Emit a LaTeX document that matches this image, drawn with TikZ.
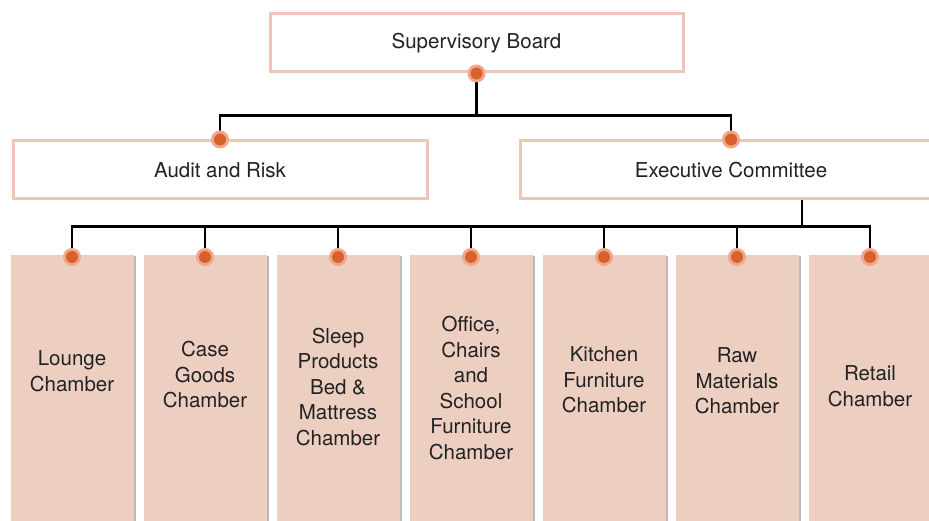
\documentclass[tikz,border=0pt]{standalone}
\usepackage{fontspec}
\setmainfont{TeX Gyre Heros}
\usetikzlibrary{calc,positioning,shadows}
\definecolor{rimpink}{HTML}{F0C7B6}
\definecolor{chamberfill}{HTML}{EDCFC2}
\definecolor{pinorange}{HTML}{D6612C}
\definecolor{pinhalo}{HTML}{F2A68A}
\definecolor{inktext}{HTML}{222222}
\tikzset{
  board/.style={draw=rimpink, line width=3pt, fill=white, minimum height=58pt,
    inner sep=0pt, text=inktext,
    drop shadow={shadow xshift=1.5pt, shadow yshift=-1.5pt, fill=black!40, opacity=.5}},
  chamber/.style={fill=chamberfill, minimum width=123pt, minimum height=300pt,
    anchor=north, inner sep=0pt,
    drop shadow={shadow xshift=2.5pt, shadow yshift=-1pt, fill=black!45, opacity=.6}},
  chambertext/.style={align=center, text=inktext},
  wire/.style={line width=2.5pt, black}
}
\newcommand{\pinat}[1]{%
  \fill[pinhalo] (#1) circle(9pt);
  \fill[pinorange] (#1) circle(6pt);}
\begin{document}
\begin{tikzpicture}[x=1pt, y=-1pt, font=\fontsize{20.5}{25.5}\selectfont]
  \useasboundingbox (0,0) rectangle (929,521);
  \clip (0,0) rectangle (929,521);
  % boards
  \node[board, minimum width=413pt] (sb) at (476.5,43) {Supervisory Board};
  \node[board, minimum width=414pt] (audit) at (220,170) {Audit and Risk};
  \node[board, minimum width=422pt] (exec) at (731,170) {Executive Committee};
  % chambers
  \foreach \n/\x in {1/72,2/205,3/338,4/471,5/604,6/737,7/870}
    \node[chamber] (c\n) at (\x,255) {};
  \foreach \n/\dy/\txt in {1/116/{Lounge\\Chamber},
                          2/120/{Case\\Goods\\Chamber},
                          3/132/{Sleep\\Products\\Bed \&\\Mattress\\Chamber},
                          4/133/{Office,\\Chairs\\and\\School\\Furniture\\Chamber},
                          5/125/{Kitchen\\Furniture\\Chamber},
                          6/126/{Raw\\Materials\\Chamber},
                          7/131/{Retail\\Chamber}}
    \node[chambertext] (t\n) at ($(c\n.north)+(0,\dy)$) {\txt};
  % connectors
  \draw[wire] (sb.south) -- ++(0,42) coordinate (bus1);
  \draw[wire] (audit.north) |- (bus1) -| (exec.north);
  \coordinate (ex1) at ($(exec.south)+(71,0)$);
  \draw[wire] (ex1) -- ++(0,26) coordinate (bus2);
  \draw[wire] (c1.north) |- (bus2) -| (c7.north);
  \foreach \n in {2,...,6}
    \draw[wire] (c\n.north) -- (c\n.north |- bus2);
  % pins
  \pinat{sb.south}
  \pinat{audit.north}
  \pinat{exec.north}
  \foreach \n in {1,...,7}{
    \pinat{$(c\n.north)+(0,2)$}
  }
\end{tikzpicture}
\end{document}
